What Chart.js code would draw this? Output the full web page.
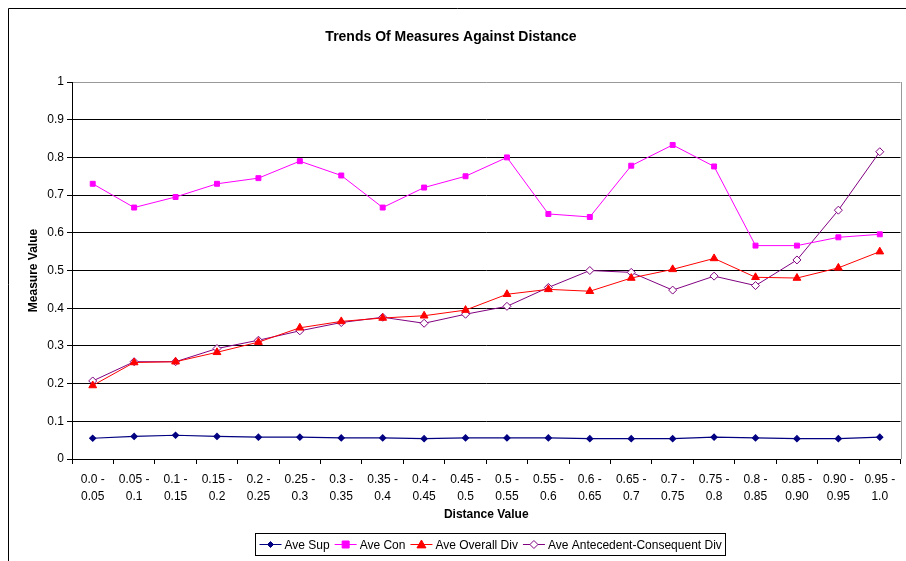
<!DOCTYPE html>
<html>
<head>
<meta charset="utf-8">
<script src="https://cdn.jsdelivr.net/npm/chart.js@4/dist/chart.umd.min.js"></script>
<style>
  body { margin: 0; background: #fff; }
</style>
</head>
<body>
<canvas id="myChart" width="906" height="561"></canvas>
<script>
var categories = [
  ['0.0 -', '0.05'], ['0.05 -', '0.1'], ['0.1 -', '0.15'], ['0.15 -', '0.2'], ['0.2 -', '0.25'],
  ['0.25 -', '0.3'], ['0.3 -', '0.35'], ['0.35 -', '0.4'], ['0.4 -', '0.45'], ['0.45 -', '0.5'],
  ['0.5 -', '0.55'], ['0.55 -', '0.6'], ['0.6 -', '0.65'], ['0.65 -', '0.7'], ['0.7 -', '0.75'],
  ['0.75 -', '0.8'], ['0.8 -', '0.85'], ['0.85 -', '0.90'], ['0.90 -', '0.95'], ['0.95 -', '1.0']
];
var aveSup = [0.055, 0.06, 0.063, 0.06, 0.058, 0.058, 0.056, 0.056, 0.054, 0.056,
              0.056, 0.056, 0.054, 0.054, 0.054, 0.058, 0.056, 0.054, 0.054, 0.058];
var aveCon = [0.73, 0.667, 0.695, 0.73, 0.745, 0.79, 0.752, 0.667, 0.72, 0.75,
              0.80, 0.65, 0.642, 0.778, 0.833, 0.776, 0.566, 0.566, 0.588, 0.596];
var aveOverallDiv = [0.195, 0.256, 0.258, 0.283, 0.31, 0.348, 0.365, 0.374, 0.38, 0.395,
                     0.437, 0.45, 0.445, 0.48, 0.503, 0.532, 0.482, 0.48, 0.507, 0.55];
var aveACDiv = [0.207, 0.258, 0.258, 0.293, 0.315, 0.34, 0.362, 0.376, 0.36, 0.384,
                0.405, 0.455, 0.50, 0.495, 0.448, 0.485, 0.46, 0.528, 0.66, 0.815];

var FONT = "'Liberation Sans', Arial, sans-serif";

function drawMarker(ctx, style, r, x, y) {
  if (style === 'rect') {
    ctx.rect(x - r, y - r, 2 * r, 2 * r);
  } else if (style === 'rectRot') {
    ctx.moveTo(x, y - r); ctx.lineTo(x + r, y); ctx.lineTo(x, y + r); ctx.lineTo(x - r, y); ctx.closePath();
  } else {
    ctx.moveTo(x, y - r); ctx.lineTo(x + r, y + r * 0.75); ctx.lineTo(x - r, y + r * 0.75); ctx.closePath();
  }
}

// outer frame, right plot border and the boxed legend
var framePlugin = {
  id: 'frame',
  afterDraw: function(chart) {
    var ctx = chart.ctx;
    var area = chart.chartArea;
    ctx.save();
    ctx.lineWidth = 1;
    ctx.strokeStyle = '#000';
    ctx.beginPath();
    ctx.moveTo(8.5, 561);
    ctx.lineTo(8.5, 8.5);
    ctx.lineTo(906, 8.5);
    ctx.stroke();

    ctx.strokeStyle = '#999';
    ctx.beginPath();
    ctx.moveTo(Math.round(area.right) + 0.5, area.top);
    ctx.lineTo(Math.round(area.right) + 0.5, area.bottom);
    ctx.stroke();

    // legend
    ctx.font = '12px ' + FONT;
    var items = chart.data.datasets;
    var widths = items.map(function(d) { return 22 + 3 + ctx.measureText(d.label).width; });
    var gap = 5;
    var total = widths.reduce(function(a, b) { return a + b; }, 0) + gap * (items.length - 1) + 8;
    var bx = Math.round(490 - total / 2) + 0.5;
    var by = 533.5;
    ctx.strokeStyle = '#000';
    ctx.strokeRect(bx, by, Math.round(total), 22);
    var x = bx + 4;
    var cy = by + 11;
    items.forEach(function(d, i) {
      ctx.strokeStyle = d.borderColor;
      ctx.lineWidth = 1;
      ctx.beginPath();
      ctx.moveTo(x, cy);
      ctx.lineTo(x + 22, cy);
      ctx.stroke();
      ctx.fillStyle = d.pointBackgroundColor;
      ctx.strokeStyle = d.pointBorderColor;
      ctx.beginPath();
      drawMarker(ctx, d.pointStyle, d.pointRadius, x + 11, cy);
      ctx.fill();
      ctx.stroke();
      ctx.fillStyle = '#000';
      ctx.textBaseline = 'middle';
      ctx.textAlign = 'left';
      ctx.fillText(d.label, x + 25, cy + 1);
      x += widths[i] + gap;
    });
    ctx.restore();
  }
};

var ctx = document.getElementById('myChart').getContext('2d');
var myChart = new Chart(ctx, {
  type: 'line',
  data: {
    labels: categories,
    datasets: [
      {
        label: 'Ave Sup',
        data: aveSup,
        borderColor: '#000080',
        backgroundColor: '#000080',
        pointBackgroundColor: '#000080',
        pointBorderColor: '#000080',
        pointStyle: 'rectRot',
        pointRadius: 3,
        borderWidth: 1.2,
        fill: false
      },
      {
        label: 'Ave Con',
        data: aveCon,
        borderColor: '#ff00ff',
        backgroundColor: '#ff00ff',
        pointBackgroundColor: '#ff00ff',
        pointBorderColor: '#ff00ff',
        pointStyle: 'rect',
        pointRadius: 3.5,
        borderWidth: 1,
        fill: false
      },
      {
        label: 'Ave Overall Div',
        data: aveOverallDiv,
        borderColor: '#ff0000',
        backgroundColor: '#ff0000',
        pointBackgroundColor: '#ff0000',
        pointBorderColor: '#ff0000',
        pointStyle: 'triangle',
        pointRadius: 4.5,
        borderWidth: 1,
        fill: false
      },
      {
        label: 'Ave Antecedent-Consequent Div',
        data: aveACDiv,
        borderColor: '#800080',
        backgroundColor: '#ffffff',
        pointBackgroundColor: '#ffffff',
        pointBorderColor: '#800080',
        pointStyle: 'rectRot',
        pointRadius: 4,
        borderWidth: 1,
        fill: false
      }
    ]
  },
  options: {
    responsive: false,
    animation: false,
    layout: { padding: { left: 0, right: 4, top: 0, bottom: 0 } },
    plugins: {
      legend: { display: false },
      tooltip: { enabled: false },
      title: {
        display: true,
        text: 'Trends Of Measures Against Distance',
        color: '#000',
        font: { family: FONT, size: 14, weight: 'bold' },
        padding: { top: 29, bottom: 36.2 }
      }
    },
    scales: {
      x: {
        offset: true,
        afterFit: function(scale) { scale.height = 102; },
        grid: { display: true, drawOnChartArea: false, offset: true, color: '#000', tickLength: 5 },
        border: { color: '#000' },
        ticks: {
          color: '#000',
          maxRotation: 0,
          autoSkip: false,
          padding: 7,
          font: { family: FONT, size: 12, lineHeight: 1.4 }
        },
        title: {
          display: true,
          text: 'Distance Value',
          color: '#000',
          font: { family: FONT, size: 12, weight: 'bold' },
          padding: { top: 0, bottom: 39 }
        }
      },
      y: {
        min: 0,
        max: 1,
        afterFit: function(scale) { scale.width = 72; },
        grid: {
          color: function(c) { return c.tick && c.tick.value === 1 ? '#999' : '#000'; },
          tickColor: '#000',
          tickLength: 5
        },
        border: { color: '#000' },
        ticks: {
          stepSize: 0.1,
          color: '#000',
          padding: 3,
          font: { family: FONT, size: 12 },
          callback: function(v) { return Math.round(v * 10) / 10; }
        },
        title: {
          display: true,
          text: 'Measure Value',
          color: '#000',
          font: { family: FONT, size: 12, weight: 'bold' },
          padding: { top: 26, bottom: 0 }
        }
      }
    }
  },
  plugins: [framePlugin]
});
</script>
</body>
</html>
